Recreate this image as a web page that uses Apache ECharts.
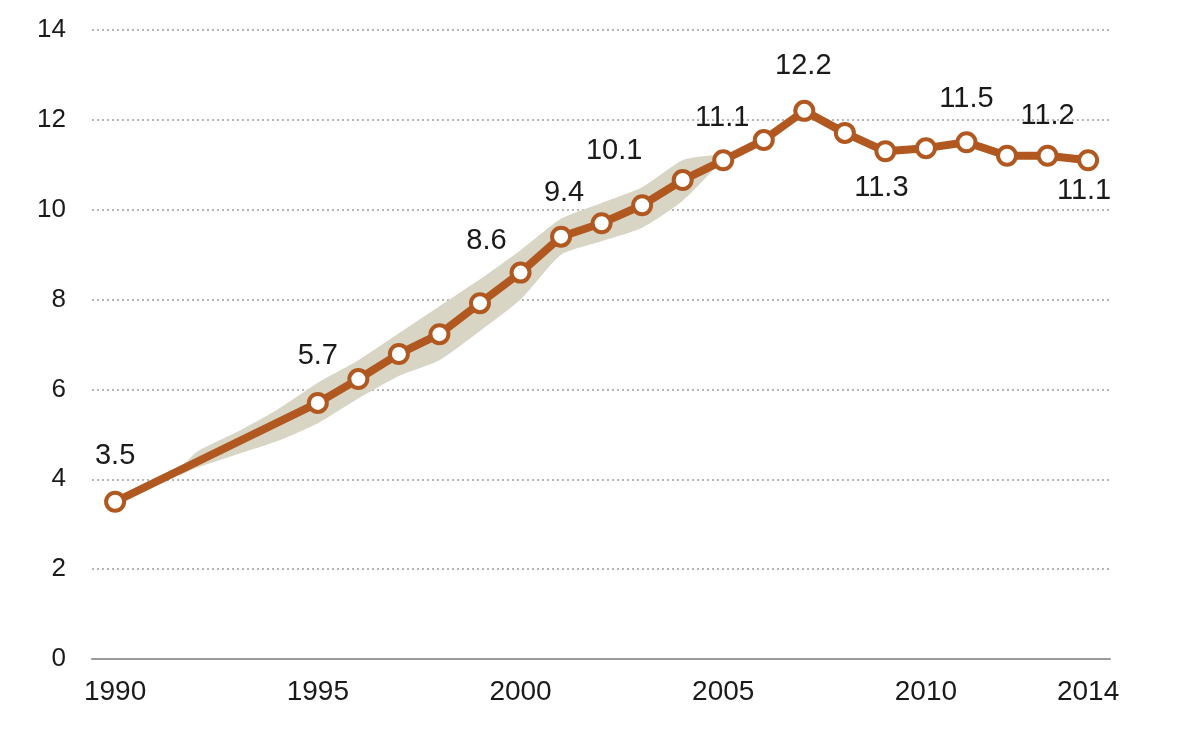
<!DOCTYPE html>
<html>
<head>
<meta charset="utf-8">
<script src="https://cdn.jsdelivr.net/npm/echarts@6/dist/echarts.min.js"></script>
<style>html,body{margin:0;padding:0;background:#fff}#c{width:1193px;height:736px}</style>
</head>
<body>
<div id="c"></div>
<script>
// ---- data ----
var years  = [1990, 1995, 1996, 1997, 1998, 1999, 2000, 2001, 2002, 2003, 2004, 2005, 2006, 2007, 2008, 2009, 2010, 2011, 2012, 2013, 2014];
var values = [3.5, 5.7, 6.23, 6.79, 7.23, 7.92, 8.6, 9.4, 9.7, 10.1, 10.66, 11.1, 11.55, 12.2, 11.71, 11.3, 11.37, 11.5, 11.2, 11.2, 11.1];
var labelledYears = [1990, 1995, 2000, 2001, 2003, 2005, 2007, 2009, 2011, 2013, 2014];
var bandYears = [1991.6, 1992, 1993, 1994, 1995, 1996, 1997, 1998, 1999, 2000, 2001, 2002, 2003, 2004, 2004.8];
var bandLower = [4.1, 4.25, 4.55, 4.85, 5.25, 5.8, 6.3, 6.65, 7.3, 8.0, 9.0, 9.3, 9.6, 10.2, 10.95];
var bandUpper = [4.2, 4.6, 5.05, 5.55, 6.15, 6.65, 7.25, 7.85, 8.45, 9.1, 9.8, 10.15, 10.5, 11.1, 11.2];
var xTicks = [1990, 1995, 2000, 2005, 2010, 2014];
var yTicks = [0, 2, 4, 6, 8, 10, 12, 14];

// ---- label placement (style, not data) ----
var labelOffsets = {
  1990: [0, -46], 1995: [0, -47], 2000: [-34, -32], 2001: [3, -44],
  2003: [-28, -54], 2005: [-1, -42], 2007: [-1, -45], 2009: [-4, 37],
  2011: [0, -43], 2013: [0, -40], 2014: [-4, 31]
};

var FONT = 'Liberation Sans, Arial, sans-serif';
var LINE = '#b0581f';
var TEXT = '#1a1a1a';

var lineData = years.map(function (y, i) {
  var item = { value: [y, values[i]] };
  if (labelledYears.indexOf(y) >= 0) {
    item.label = {
      show: true,
      position: 'inside',
      offset: labelOffsets[y],
      formatter: function (p) { return p.value[1].toFixed(1); },
      color: TEXT,
      fontSize: 29,
      fontFamily: FONT
    };
  }
  return item;
});

var bandData = bandYears.map(function (y, i) { return [y, bandLower[i], bandUpper[i]]; });

var chart = echarts.init(document.getElementById('c'));
chart.setOption({
  animation: false,
  backgroundColor: '#fff',
  grid: { left: 92, right: 83, top: 30, bottom: 77, containLabel: false },
  xAxis: {
    type: 'value',
    min: 1989.43,
    max: 2014.54,
    axisLine: { show: true, onZero: false, lineStyle: { color: '#9a9a9a', width: 2 } },
    axisTick: { show: false },
    splitLine: { show: false },
    axisLabel: {
      customValues: xTicks,
      color: TEXT, fontSize: 28, fontFamily: FONT, margin: 19,
      formatter: function (v) { return String(v); }
    }
  },
  yAxis: {
    type: 'value',
    min: 0, max: 14, interval: 2,
    axisLine: { show: false },
    axisTick: { show: false },
    splitLine: { show: true, lineStyle: { type: [2, 3], color: '#b5b5b5', width: 2 } },
    axisLabel: {
      customValues: yTicks,
      color: TEXT, fontSize: 26, fontFamily: FONT, margin: 26
    }
  },
  series: [
    {
      type: 'custom',
      z: 1,
      silent: true,
      data: bandData,
      encode: { x: 0, y: [1, 2] },
      renderItem: function (params, api) {
        if (params.dataIndex !== 0) return null;
        var pts = [];
        for (var i = 0; i < bandYears.length; i++) pts.push(api.coord([bandYears[i], bandUpper[i]]));
        for (var j = bandYears.length - 1; j >= 0; j--) pts.push(api.coord([bandYears[j], bandLower[j]]));
        return {
          type: 'polygon',
          shape: { points: pts, smooth: 0.2 },
          style: { fill: '#d8d5c5' }
        };
      }
    },
    {
      type: 'line',
      z: 3,
      data: lineData,
      symbol: 'circle',
      symbolSize: 18,
      showAllSymbol: true,
      lineStyle: { color: LINE, width: 8 },
      itemStyle: { color: '#fff', borderColor: LINE, borderWidth: 4 },
      label: { show: false }
    }
  ]
});
</script>
</body>
</html>
